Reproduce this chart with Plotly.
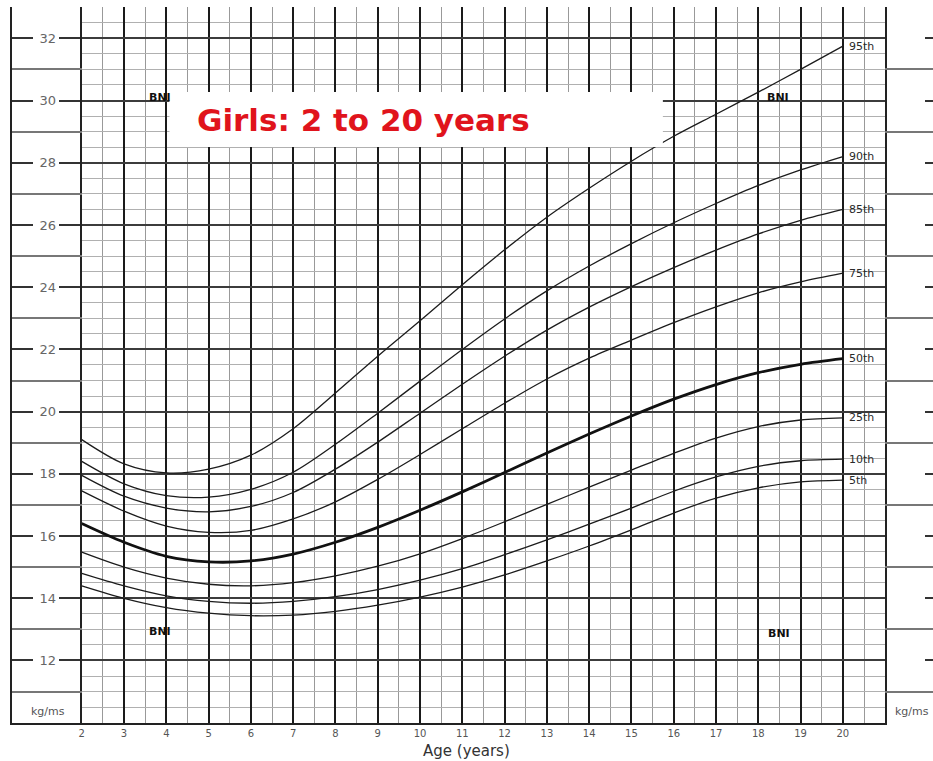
import plotly.graph_objects as go

# ---------------- data ----------------
ages = [2, 3, 4, 5, 6, 7, 8, 9, 10, 11, 12, 13, 14, 15, 16, 17, 18, 19, 20]
p5 = [14.4, 14.0, 13.7, 13.52, 13.44, 13.46, 13.58, 13.78, 14.04, 14.36, 14.75, 15.2, 15.68, 16.2, 16.74, 17.22, 17.55, 17.74, 17.8]
p10 = [14.8, 14.4, 14.08, 13.9, 13.84, 13.9, 14.05, 14.28, 14.58, 14.95, 15.4, 15.88, 16.38, 16.9, 17.44, 17.9, 18.24, 18.42, 18.47]
p25 = [15.48, 15.0, 14.65, 14.45, 14.4, 14.5, 14.72, 15.03, 15.43, 15.92, 16.46, 17.02, 17.57, 18.12, 18.66, 19.15, 19.52, 19.73, 19.8]
p50 = [16.4, 15.8, 15.35, 15.17, 15.2, 15.42, 15.8, 16.28, 16.83, 17.42, 18.04, 18.67, 19.28, 19.86, 20.4, 20.87, 21.25, 21.52, 21.7]
p75 = [17.45, 16.8, 16.32, 16.12, 16.18, 16.55, 17.1, 17.82, 18.62, 19.45, 20.27, 21.05, 21.72, 22.3, 22.86, 23.37, 23.82, 24.17, 24.45]
p85 = [17.95, 17.28, 16.9, 16.78, 16.95, 17.4, 18.15, 19.02, 19.95, 20.88, 21.78, 22.62, 23.36, 24.02, 24.63, 25.19, 25.71, 26.15, 26.5]
p90 = [18.4, 17.68, 17.3, 17.25, 17.5, 18.05, 18.95, 19.95, 20.98, 22.0, 22.98, 23.88, 24.68, 25.4, 26.07, 26.69, 27.27, 27.77, 28.2]
p95 = [19.1, 18.32, 18.03, 18.15, 18.6, 19.45, 20.6, 21.78, 22.92, 24.08, 25.2, 26.25, 27.18, 28.05, 28.85, 29.56, 30.27, 31.0, 31.75]

series_names = ["5th", "10th", "25th", "50th", "75th", "85th", "90th", "95th"]
series_values = [p5, p10, p25, p50, p75, p85, p90, p95]

x_tick_vals = list(range(2, 21))
x_tick_text = [str(v) for v in x_tick_vals]
y_tick_vals = list(range(12, 33, 2))
y_tick_text = [str(v) for v in y_tick_vals]

title_text = "Girls: 2 to 20 years"
x_title = "Age (years)"
unit_text = "kg/ms"
bni_text = "BNI"
bni_positions_x = [3.84, 18.46, 3.85, 18.5]
bni_positions_y = [30.1, 30.1, 12.92, 12.87]

# ---------------- layout geometry ----------------
W, H = 933, 761
XD = [79 / W, 885 / W]
YD = [1 - 722.7 / H, 1 - 7.2 / H]
XL = [9 / W, 79 / W]
XR = [885 / W, 1.0]
XR_RANGE = [2, 21]
YR_RANGE = [10, 33]

fig = go.Figure()

for name, vals in zip(series_names, series_values):
    fig.add_trace(go.Scatter(
        x=ages, y=vals, mode="lines", name=name,
        line=dict(color="#111111" if name == "50th" else "#1c1c1c",
                  width=2.8 if name == "50th" else 1.3,
                  shape="spline", smoothing=0.9),
        hoverinfo="skip", showlegend=False,
        xaxis="x", yaxis="y",
    ))

# invisible traces to activate margin subplots
fig.add_trace(go.Scatter(x=[0], y=[10], mode="markers", marker=dict(opacity=0),
                         showlegend=False, hoverinfo="skip", xaxis="x2", yaxis="y2"))
fig.add_trace(go.Scatter(x=[0], y=[10], mode="markers", marker=dict(opacity=0),
                         showlegend=False, hoverinfo="skip", xaxis="x3", yaxis="y3"))

fig.update_layout(
    width=W, height=H,
    margin=dict(l=0, r=0, t=0, b=0),
    paper_bgcolor="white", plot_bgcolor="rgba(0,0,0,0)",
    showlegend=False,
    font=dict(family="DejaVu Sans", color="#555"),
    xaxis=dict(
        domain=XD, range=XR_RANGE, anchor="y",
        tickmode="array", tickvals=x_tick_vals, ticktext=x_tick_text,
        ticks="", tickfont=dict(size=10, color="#555"),
        showgrid=True, gridcolor="#1a1a1a", gridwidth=1.8,
        minor=dict(tick0=2, dtick=0.5, showgrid=True, gridcolor="#999999", gridwidth=1.4),
        showline=True, linecolor="#222", linewidth=2,
        zeroline=False, fixedrange=True,
    ),
    yaxis=dict(
        domain=YD, range=YR_RANGE, anchor="x",
        tickmode="array", tickvals=y_tick_vals, ticktext=y_tick_text,
        ticks="outside", ticklen=21, tickwidth=1.6, tickcolor="#333",
        tickfont=dict(size=13, color="#666"),
        showgrid=True, gridcolor="#3c3c3c", gridwidth=1.8,
        minor=dict(tick0=10, dtick=0.5, showgrid=True, gridcolor="#b0b0b0", gridwidth=1.3),
        showline=True, mirror=True, linecolor="#222", linewidth=2,
        zeroline=False, fixedrange=True,
    ),
    yaxis4=dict(
        overlaying="y", anchor="x", range=YR_RANGE, side="left",
        tickmode="linear", tick0=11, dtick=2, ticks="", showticklabels=False,
        showgrid=True, gridcolor="#777777", gridwidth=1.5, zeroline=False, showline=False,
    ),
    yaxis5=dict(
        overlaying="y", anchor="x", range=YR_RANGE, side="left",
        tickmode="linear", tick0=10, dtick=0.1, ticks="outside", ticklen=6,
        tickcolor="#999", tickwidth=1, showticklabels=False,
        showgrid=False, zeroline=False, showline=False,
    ),
    yaxis6=dict(
        overlaying="y", anchor="x", range=YR_RANGE, side="right",
        tickmode="array", tickvals=y_tick_vals, ticktext=y_tick_text,
        ticks="outside", ticklen=9, tickwidth=1.6, tickcolor="#333",
        tickfont=dict(size=13, color="#666"),
        minor=dict(tick0=10, dtick=0.1, ticks="outside", ticklen=5, tickcolor="#999", showgrid=False),
        showgrid=False, zeroline=False, showline=False,
    ),
    xaxis4=dict(
        overlaying="x", anchor="y", range=XR_RANGE, side="bottom",
        tickmode="linear", tick0=2, dtick=0.25, ticks="inside", ticklen=4,
        tickcolor="#666", tickwidth=1, showticklabels=False,
        showgrid=False, zeroline=False, showline=False,
    ),
    xaxis2=dict(
        domain=XL, range=[0, 1], anchor="y2",
        showticklabels=False, ticks="", showgrid=False, zeroline=False,
        showline=True, linecolor="#222", linewidth=2, fixedrange=True,
    ),
    yaxis2=dict(
        domain=YD, range=YR_RANGE, anchor="x2", side="left",
        tickmode="array", tickvals=y_tick_vals, ticks="inside", ticklen=21,
        tickwidth=1.6, tickcolor="#333", showticklabels=False,
        showgrid=False,
        minor=dict(tick0=11, dtick=2, showgrid=True, gridcolor="#777777", gridwidth=1.5),
        showline=True, linecolor="#222", linewidth=2, zeroline=False, fixedrange=True,
    ),
    xaxis3=dict(
        domain=XR, range=[0, 1], anchor="y3", visible=False, fixedrange=True,
    ),
    yaxis3=dict(
        domain=YD, range=YR_RANGE, anchor="x3", side="right",
        tickmode="array", tickvals=y_tick_vals, ticks="inside", ticklen=8,
        tickwidth=1.6, tickcolor="#333", showticklabels=False,
        showgrid=False,
        minor=dict(tick0=11, dtick=2, showgrid=True, gridcolor="#777777", gridwidth=1.5),
        showline=False, zeroline=False, fixedrange=True,
    ),
)

# white title box
fig.add_shape(type="rect", xref="paper", yref="paper",
              x0=167 / W, x1=662 / W, y0=1 - 147 / H, y1=1 - 92 / H,
              fillcolor="white", line=dict(width=0), layer="above")

annotations = []
annotations.append(dict(
    text=f"<b>{title_text}</b>", xref="paper", yref="paper",
    x=193 / W, y=1 - 120 / H, xanchor="left", yanchor="middle", showarrow=False,
    font=dict(family="DejaVu Sans", size=31, color="#e0141c"),
))
for name, vals in zip(series_names, series_values):
    annotations.append(dict(
        text=name, x=ages[-1], y=vals[-1], xref="x", yref="y",
        xanchor="left", yanchor="middle", xshift=4, showarrow=False,
        font=dict(family="DejaVu Sans", size=11, color="#2a2a2a"),
    ))
for bx, by in zip(bni_positions_x, bni_positions_y):
    annotations.append(dict(
        text=f"<b>{bni_text}</b>", x=bx, y=by, xref="x", yref="y",
        xanchor="center", yanchor="middle", showarrow=False,
        font=dict(family="DejaVu Sans", size=11, color="#111"),
    ))
annotations.append(dict(
    text=x_title, xref="paper", yref="paper", x=465 / W, y=1 - 751 / H,
    xanchor="center", yanchor="middle", showarrow=False,
    font=dict(family="DejaVu Sans", size=15, color="#333"),
))
annotations.append(dict(
    text=unit_text, xref="paper", yref="paper", x=45.5 / W, y=1 - 711 / H,
    xanchor="center", yanchor="middle", showarrow=False,
    font=dict(family="DejaVu Sans", size=11, color="#555"),
))
annotations.append(dict(
    text=unit_text, xref="paper", yref="paper", x=893 / W, y=1 - 711 / H,
    xanchor="left", yanchor="middle", showarrow=False,
    font=dict(family="DejaVu Sans", size=11, color="#555"),
))
fig.update_layout(annotations=annotations)

fig.write_html(
    "out.html",
    config={"displayModeBar": False},
    post_script="document.body.style.margin='0';document.body.style.overflow='hidden';",
)
